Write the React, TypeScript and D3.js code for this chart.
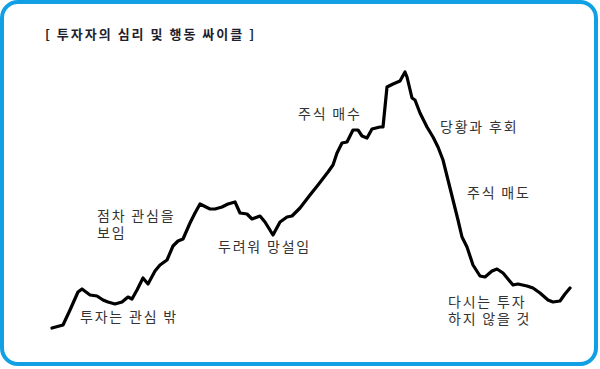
import React from "react";
import * as d3 from "d3";

const W = 600;
const H = 369;

// time (horizontal) and sentiment level (vertical)
const times = [
  2, 13, 20, 28, 32, 40, 47, 53, 58, 65, 72, 78, 82, 87, 93, 98, 105, 110, 117,
  123, 128, 133, 140, 145, 150, 160, 165, 172, 178, 185, 190, 197, 202, 210, 215,
  223, 230, 237, 242, 250, 260, 268, 278, 283, 287, 292, 297, 303, 308, 312, 317,
  322, 330, 333, 337, 343, 350, 355, 357, 362, 365, 370, 377, 383, 388, 393, 398,
  403, 408, 412, 417, 423, 430, 435, 442, 447, 453, 458, 463, 468, 477, 483, 490,
  498, 503, 510, 515, 520,
];
const levels = [
  12, 15, 30, 48, 51, 45, 44, 40, 38, 36, 38, 43, 41, 50, 62, 56, 69, 75, 80, 94,
  99, 101, 117, 127, 136, 131, 131, 133, 136, 138, 127, 126, 121, 124, 118, 105,
  118, 123, 124, 132, 145, 155, 168, 175, 187, 197, 198, 210, 210, 204, 202, 211,
  213, 213, 253, 256, 259, 268, 263, 242, 240, 227, 213, 203, 193, 180, 160, 140,
  120, 103, 93, 75, 64, 63, 69, 71, 67, 61, 55, 56, 54, 52, 47, 40, 38, 39, 46, 52,
];

const labels = [
  { lines: ["투자는 관심 밖"], t: 30, v: 22 },
  { lines: ["점차 관심을", "보임"], t: 47, v: 123 },
  { lines: ["두려워 망설임"], t: 168, v: 92 },
  { lines: ["주식 매수"], t: 248, v: 225 },
  { lines: ["당황과 후회"], t: 390, v: 212 },
  { lines: ["주식 매도"], t: 417, v: 146 },
  { lines: ["다시는 투자", "하지 않을 것"], t: 398, v: 37 },
];

const title = "[ 투자자의 심리 및 행동 싸이클 ]";

export default function App() {
  const x = d3.scaleLinear().domain([0, 530]).range([50, 580]);
  const y = d3.scaleLinear().domain([0, 280]).range([340, 60]);
  const pts = times.map((t, i) => [t, levels[i]] as [number, number]);
  const line = d3
    .line<[number, number]>()
    .x((d) => x(d[0]))
    .y((d) => y(d[1]))
    .curve(d3.curveLinear);

  const font = "'Noto Sans CJK KR', 'Noto Sans', sans-serif";

  return (
    <svg
      width={W}
      height={H}
      style={{ position: "absolute", left: 0, top: 0, background: "#fff" }}
    >
      <rect
        x={2}
        y={2}
        width={594}
        height={362}
        rx={16}
        ry={16}
        fill="#fff"
        stroke="#11A0E4"
        strokeWidth={4}
      />
      <text
        x={45}
        y={35}
        fontFamily={font}
        fontSize={13}
        fontWeight="bold"
        letterSpacing={2}
        fill="#1e1e2e"
        dominantBaseline="middle"
      >
        {title}
      </text>
      <path
        d={line(pts) || ""}
        fill="none"
        stroke="#000"
        strokeWidth={3.2}
        strokeLinejoin="round"
        strokeLinecap="round"
      />
      {labels.map((l, i) =>
        l.lines.map((s, j) => (
          <text
            key={`${i}-${j}`}
            x={x(l.t)}
            y={y(l.v) + j * 17}
            fontFamily={font}
            fontSize={14}
            letterSpacing={1.8}
            fill="#333"
            dominantBaseline="middle"
          >
            {s}
          </text>
        ))
      )}
    </svg>
  );
}
